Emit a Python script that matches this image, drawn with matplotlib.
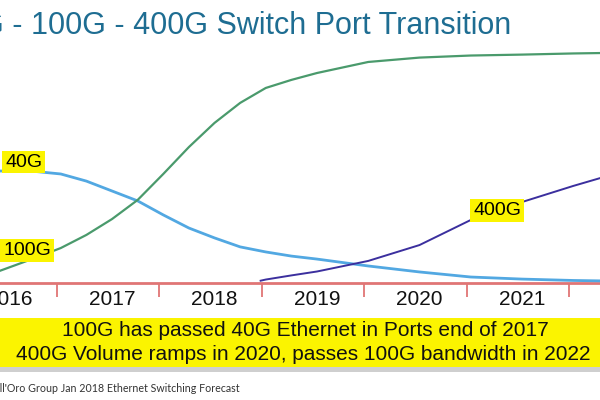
import numpy as np
from matplotlib import pyplot as plt
from matplotlib.patches import Rectangle

plt.rcParams['font.family'] = ['Liberation Sans', 'DejaVu Sans']

# %% data (share index, 0 = baseline, 100 = top of 100G curve)
years = [2015.9, 2016.25, 2016.5, 2016.75, 2017.0, 2017.25, 2017.5, 2017.75, 2018.0,
         2018.25, 2018.5, 2018.75, 2019.0, 2019.5, 2020.0, 2020.5, 2021.0, 2021.5, 2021.8]
share_100g = [5.2, 10.9, 15.2, 20.9, 27.8, 36.1, 47.4, 59.1, 69.6,
              78.3, 84.8, 88.3, 91.3, 96.1, 98.0, 98.9, 99.3, 99.8, 100.0]
share_40g = [48.7, 48.5, 47.4, 44.3, 40.0, 35.7, 29.6, 23.9, 19.6,
             15.7, 13.5, 11.7, 10.4, 7.4, 4.8, 2.6, 1.7, 1.1, 0.9]
years_400g = [2018.45, 2018.5, 2018.75, 2019.0, 2019.5, 2020.0, 2020.5, 2021.0, 2021.5, 2021.8]
share_400g = [1.0, 1.5, 3.3, 5.0, 9.6, 16.5, 27.4, 35.2, 42.2, 46.1]

year_labels = [2016, 2017, 2018, 2019, 2020, 2021, 2022]

title = '40G - 100G - 400G Switch Port Transition'
note_lines = ['100G has passed 40G Ethernet in Ports end of 2017',
              '400G Volume ramps in 2020, passes 100G bandwidth in 2022']
source = "Dell'Oro Group Jan 2018 Ethernet Switching Forecast"

# %%
fig = plt.figure(figsize=(6, 4), dpi=100)
ax = fig.add_axes([0, 0, 1, 1])
ax.set_xlim(2015.907, 2021.761)
ax.set_ylim(-50.87, 123.04)
ax.axis('off')

ax.plot(years, share_100g, color='#4a9a6c', lw=1.6, zorder=3)
ax.plot(years, share_40g, color='#52a8e2', lw=2.0, zorder=2)
ax.plot(years_400g, share_400g, color='#3b2f9e', lw=1.4, zorder=3)

# red time axis with tick marks between years
ax.axhline(0, color='#e07575', lw=2, zorder=1)
ticks = np.array(year_labels[:-1]) + 0.46
ax.vlines(ticks, -6.3, 0, color='#e07575', lw=1.3)
for y in year_labels:
    ax.text(y, -9.6, str(y), ha='center', va='baseline', fontsize=15, color='#111111')

lbl = dict(boxstyle='square,pad=0.15', fc='#fbf400', ec='none')
ax.text(2016.14, 52.6, '40G', ha='center', va='center', fontsize=14, bbox=lbl, zorder=4)
ax.text(2016.17, 14.3, '100G', ha='center', va='center', fontsize=14, bbox=lbl, zorder=4)
ax.text(2020.76, 31.7, '400G', ha='center', va='center', fontsize=14, bbox=lbl, zorder=4)

# title, yellow note band and source line
fig.text(511 / 600, 1 - 34 / 400, title, ha='right', va='baseline',
         fontsize=22, color='#1e6d92')
fig.patches.append(Rectangle((0, 1 - 372 / 400), 1, 5 / 400, transform=fig.transFigure,
                             fc='#b0b0b0', ec='none', alpha=0.6))
fig.patches.append(Rectangle((0, 1 - 367 / 400), 1, 49 / 400, transform=fig.transFigure,
                             fc='#fbf400', ec='none'))
fig.text(305 / 600, 1 - 331 / 400, note_lines[0], ha='center', va='center', fontsize=15, color='#111111')
fig.text(303 / 600, 1 - 355 / 400, note_lines[1], ha='center', va='center', fontsize=15, color='#111111')
fig.text(240 / 600, 1 - 392 / 400, source, ha='right', va='baseline', fontsize=7.7,
         color='#333333', family=['Lato', 'DejaVu Sans'])

plt.savefig('out.png', dpi=100)
